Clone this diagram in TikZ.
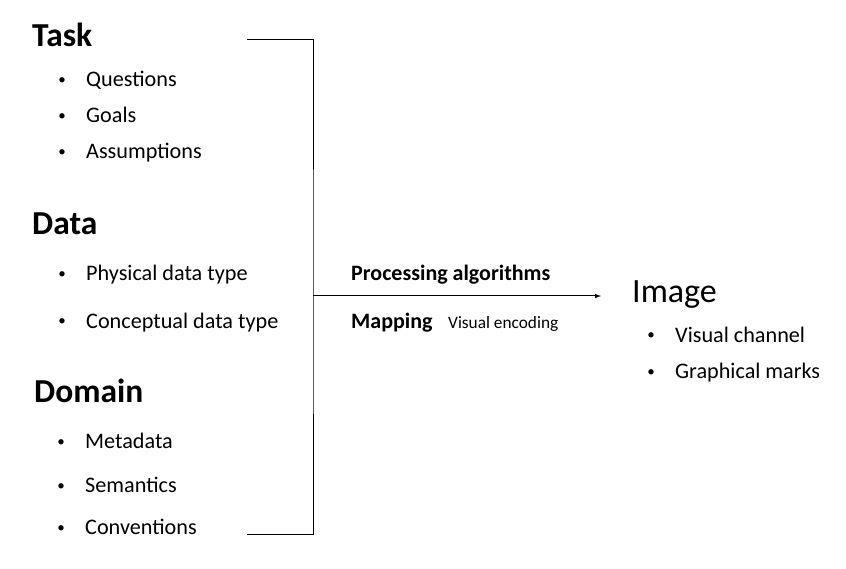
\documentclass[tikz,border=0pt]{standalone}
\usepackage{fontspec}
\setmainfont{Carlito}

\begin{document}
\begin{tikzpicture}[x=1pt, y=-1pt,
    head/.style={anchor=base west, inner sep=0pt, font=\fontsize{33.5}{38}\selectfont\bfseries},
    item/.style={anchor=base west, inner sep=0pt, font=\fontsize{22.2}{26}\selectfont},
    dot/.style={anchor=base, inner sep=0pt, font=\fontsize{15}{18}\selectfont},
    lbl/.style={anchor=base west, inner sep=0pt, font=\fontsize{22}{26}\selectfont\bfseries}]
    \useasboundingbox (0,0) rectangle (846,569);

    % Task
    \node[head] (task) at (32,47) {Task};
    \foreach \name/\txt/\y in {quest/Questions/87, goals/Goals/123, assum/Assumptions/159} {
        \node[dot] at (62,\y-2) {\textbullet};
        \node[item] (\name) at (86,\y) {\txt};
    }

    % Data
    \node[head] (data) at (32,235) {Data};
    \foreach \name/\txt/\y in {phys/Physical data type/281, concept/Conceptual data type/328} {
        \node[dot] at (62,\y-2) {\textbullet};
        \node[item] (\name) at (86,\y) {\txt};
    }

    % Domain
    \node[head] (domain) at (34,402) {Domain};
    \foreach \name/\txt/\y in {meta/Metadata/448, seman/Semantics/492, conv/Conventions/534} {
        \node[dot] at (61,\y-2) {\textbullet};
        \node[item] (\name) at (85,\y) {\txt};
    }

    % Klammer und Pfeil
    \coordinate (top) at (247,40);
    \coordinate (bot) at (247,534);
    \coordinate (mid) at (313,296);
    \coordinate (tip) at (601,296);
    \draw[line width=1pt] (top) -| (mid) |- (bot);
    \draw[line width=1pt, -latex] (mid) -- (tip);
    \node[lbl] (proc) at (351,281) {Processing algorithms};
    \node[lbl] (map) at (351,329) {Mapping};
    \node[anchor=base west, inner sep=0pt, font=\fontsize{17.3}{20}\selectfont] (enc) at (448,329) {Visual encoding};

    % Image
    \node[anchor=base west, inner sep=0pt, font=\fontsize{34}{38}\selectfont] (img) at (632,302) {Image};
    \foreach \name/\txt/\y in {chan/Visual channel/342, marks/Graphical marks/378} {
        \node[dot] at (651,\y-2) {\textbullet};
        \node[item] (\name) at (675,\y) {\txt};
    }
\end{tikzpicture}
\end{document}
